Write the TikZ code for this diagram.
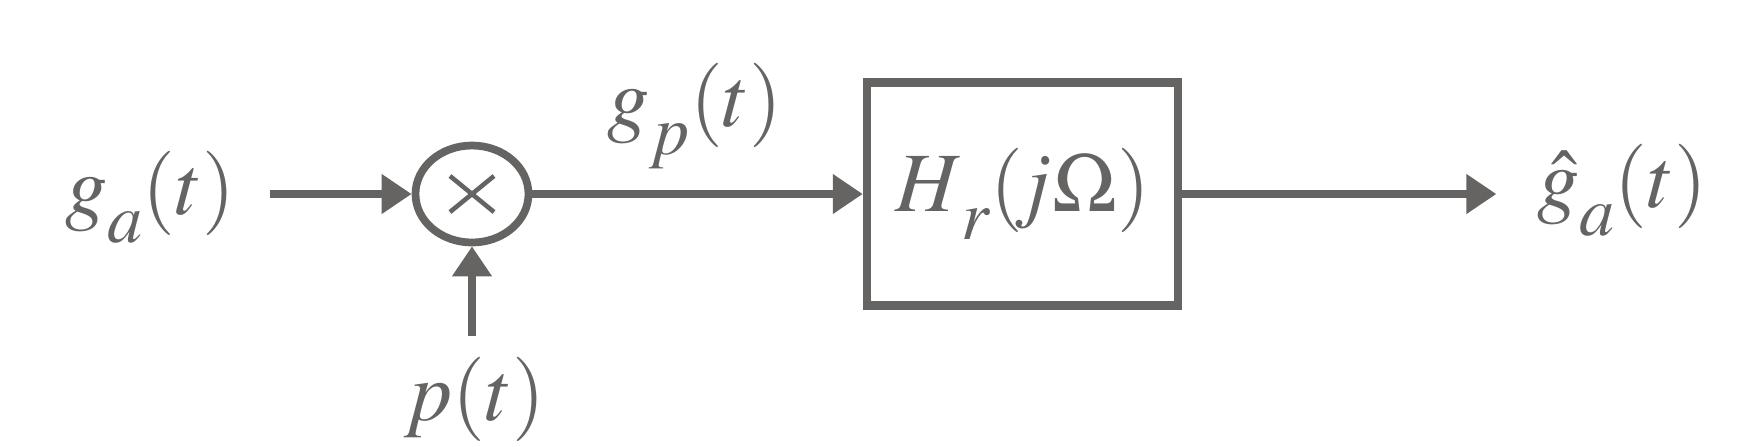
\documentclass[tikz,border=0pt]{standalone}
\usepackage{mathptmx}
\usetikzlibrary{arrows.meta,shapes.geometric}
\definecolor{ink}{RGB}{102,100,98}
\tikzset{
	sig/.style={ink,line width=2.2pt,-{Triangle[length=0.3cm,width=0.38cm]}},
	lbl/.style={ink,inner sep=0pt,font=\fontsize{24}{28}\selectfont},
}
\newcommand{\low}[1]{\raisebox{-8pt}{\fontsize{20}{24}\selectfont$#1$}}
\begin{document}
\begin{tikzpicture}
	\useasboundingbox (0,0) rectangle (17.4,4.46);
	%multiplier
	\node[draw=ink,line width=2.2pt,ellipse,minimum width=1.13cm,minimum height=0.97cm,inner sep=0pt] (mul) at (4.72,2.52) {};
	\draw[ink,line width=1.3pt] (mul.center) +(-0.22,-0.18) -- +(0.22,0.18);
	\draw[ink,line width=1.3pt] (mul.center) +(-0.22,0.18) -- +(0.22,-0.18);
	%filter
	\node[lbl,draw=ink,line width=2.4pt,minimum width=3.11cm,minimum height=2.23cm] (filt) at (10.225,2.52) {$H\low{r}(\!j\Omega)$};
	%labels
	\node[lbl] (ga) at (1.50,2.49) {$g\low{a}(t)$};
	\node[lbl] (gp) at (6.95,3.30) {$g\low{p}(t)$};
	\node[lbl] (gh) at (16.22,2.56) {$\hat{g}\low{a}(t)$};
	\node[lbl] (pt) at (4.75,0.47) {$p(t)$};
	%signals
	\draw[sig,shorten <=0.34cm] (ga.east |- mul) -- (mul);
	\draw[sig] (mul) -- (filt);
	\draw[sig,shorten >=0.4cm] (filt) -- (gh.west |- filt);
	\draw[sig,shorten <=0.2cm] (pt.north -| mul) -- (mul);
\end{tikzpicture}
\end{document}
